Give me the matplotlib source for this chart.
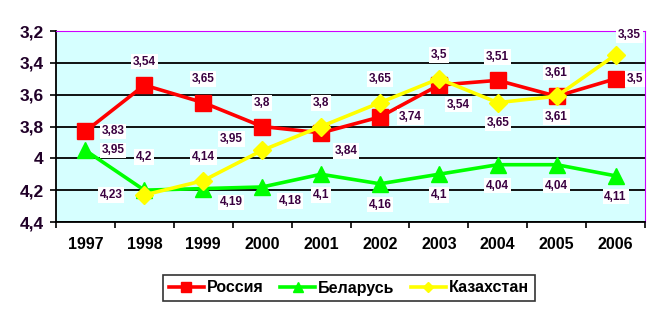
import numpy as np
import matplotlib
matplotlib.use('Agg')
import matplotlib.pyplot as plt

years = ['1997', '1998', '1999', '2000', '2001', '2002', '2003', '2004', '2005', '2006']
russia = [3.83, 3.54, 3.65, 3.8, 3.84, 3.74, 3.54, 3.51, 3.61, 3.5]
belarus = [3.95, 4.2, 4.19, 4.18, 4.1, 4.16, 4.1, 4.04, 4.04, 4.11]
kazakh = [None, 4.23, 4.14, 3.95, 3.8, 3.65, 3.5, 3.65, 3.61, 3.35]

# label offsets in points (dx, dy)
off_ru = [(20, 0), (0, 17), (0, 17), (0, 17), (18, -13), (22, 0), (14, -14), (0, 17), (0, 17), (14, 0)]
off_by = [(20, 0), (0, 24), (20, -10), (20, -10), (0, -15), (0, -15), (0, -15), (0, -15), (0, -15), (0, -15)]
off_kz = [None, (-24, 0), (0, 17), (-22, 8), (0, 17), (0, 17), (0, 17), (0, -15), (0, -15), (10, 14)]

plt.rcParams['font.family'] = ['Liberation Sans', 'DejaVu Sans']
plt.rcParams['font.weight'] = 'bold'

fig = plt.figure(figsize=(6.61, 3.14), dpi=100)
ax = fig.add_axes([56 / 661, 1 - 222 / 314, 589 / 661, 191 / 314])
ax.set_facecolor('#D6FFFF')

x = np.arange(len(years))
xk = np.array([i for i, v in enumerate(kazakh) if v is not None])
kv = [v for v in kazakh if v is not None]

ax.plot(x, russia, color='#FF0000', lw=2.6, marker='s', ms=11, label='Россия', zorder=3)
ax.plot(x, belarus, color='#00FF00', lw=2.6, marker='^', ms=11, label='Беларусь', zorder=3)
ax.plot(xk, kv, color='#FFFF00', lw=2.6, marker='D', ms=9, label='Казахстан', zorder=4)

lab_col = '#3A0040'
box = dict(boxstyle='square,pad=0.15', fc='white', ec='none')
for series, offs in [(russia, off_ru), (belarus, off_by), (kazakh, off_kz)]:
    for i, v in enumerate(series):
        if v is None:
            continue
        ax.annotate(f'{v:g}'.replace('.', ','), (i, v), xytext=offs[i], textcoords='offset points',
                    ha='center', va='center', fontsize=8.5, fontweight='bold', color=lab_col,
                    bbox=box, zorder=5)

ax.set_ylim(4.4, 3.2)
ax.set_yticks([3.2, 3.4, 3.6, 3.8, 4.0, 4.2, 4.4])
ax.set_yticklabels(['3,2', '3,4', '3,6', '3,8', '4', '4,2', '4,4'], fontsize=12.5, color='#200028')
ax.yaxis.grid(True, color='black', lw=1.3)
ax.set_axisbelow(True)

ax.set_xlim(-0.5, len(years) - 0.5)
ax.set_xticks(np.arange(-0.5, len(years), 1.0))
ax.set_xticklabels([])
ax.set_xticks(x, minor=True)
ax.set_xticklabels(years, minor=True, fontsize=11.5, color='black')
ax.tick_params(axis='x', which='minor', length=0, pad=11)
ax.tick_params(axis='x', which='major', length=4, width=1.2, direction='out')
ax.tick_params(axis='y', length=4, width=1.2, direction='out', pad=5)

ax.spines['top'].set_color('#CC00FF')
ax.spines['right'].set_color('#CC00FF')
ax.spines['left'].set_linewidth(1.3)
ax.spines['bottom'].set_linewidth(1.3)

leg = fig.legend(loc='center', bbox_to_anchor=(349 / 661, 1 - 288 / 314), ncol=3,
                 frameon=True, fancybox=False, edgecolor='black', fontsize=11.5,
                 handlelength=2.2, columnspacing=1.0, handletextpad=0.2,
                 borderpad=0.35, markerscale=0.6)
leg.get_frame().set_linewidth(1.2)

fig.savefig('out.png', dpi=100)
